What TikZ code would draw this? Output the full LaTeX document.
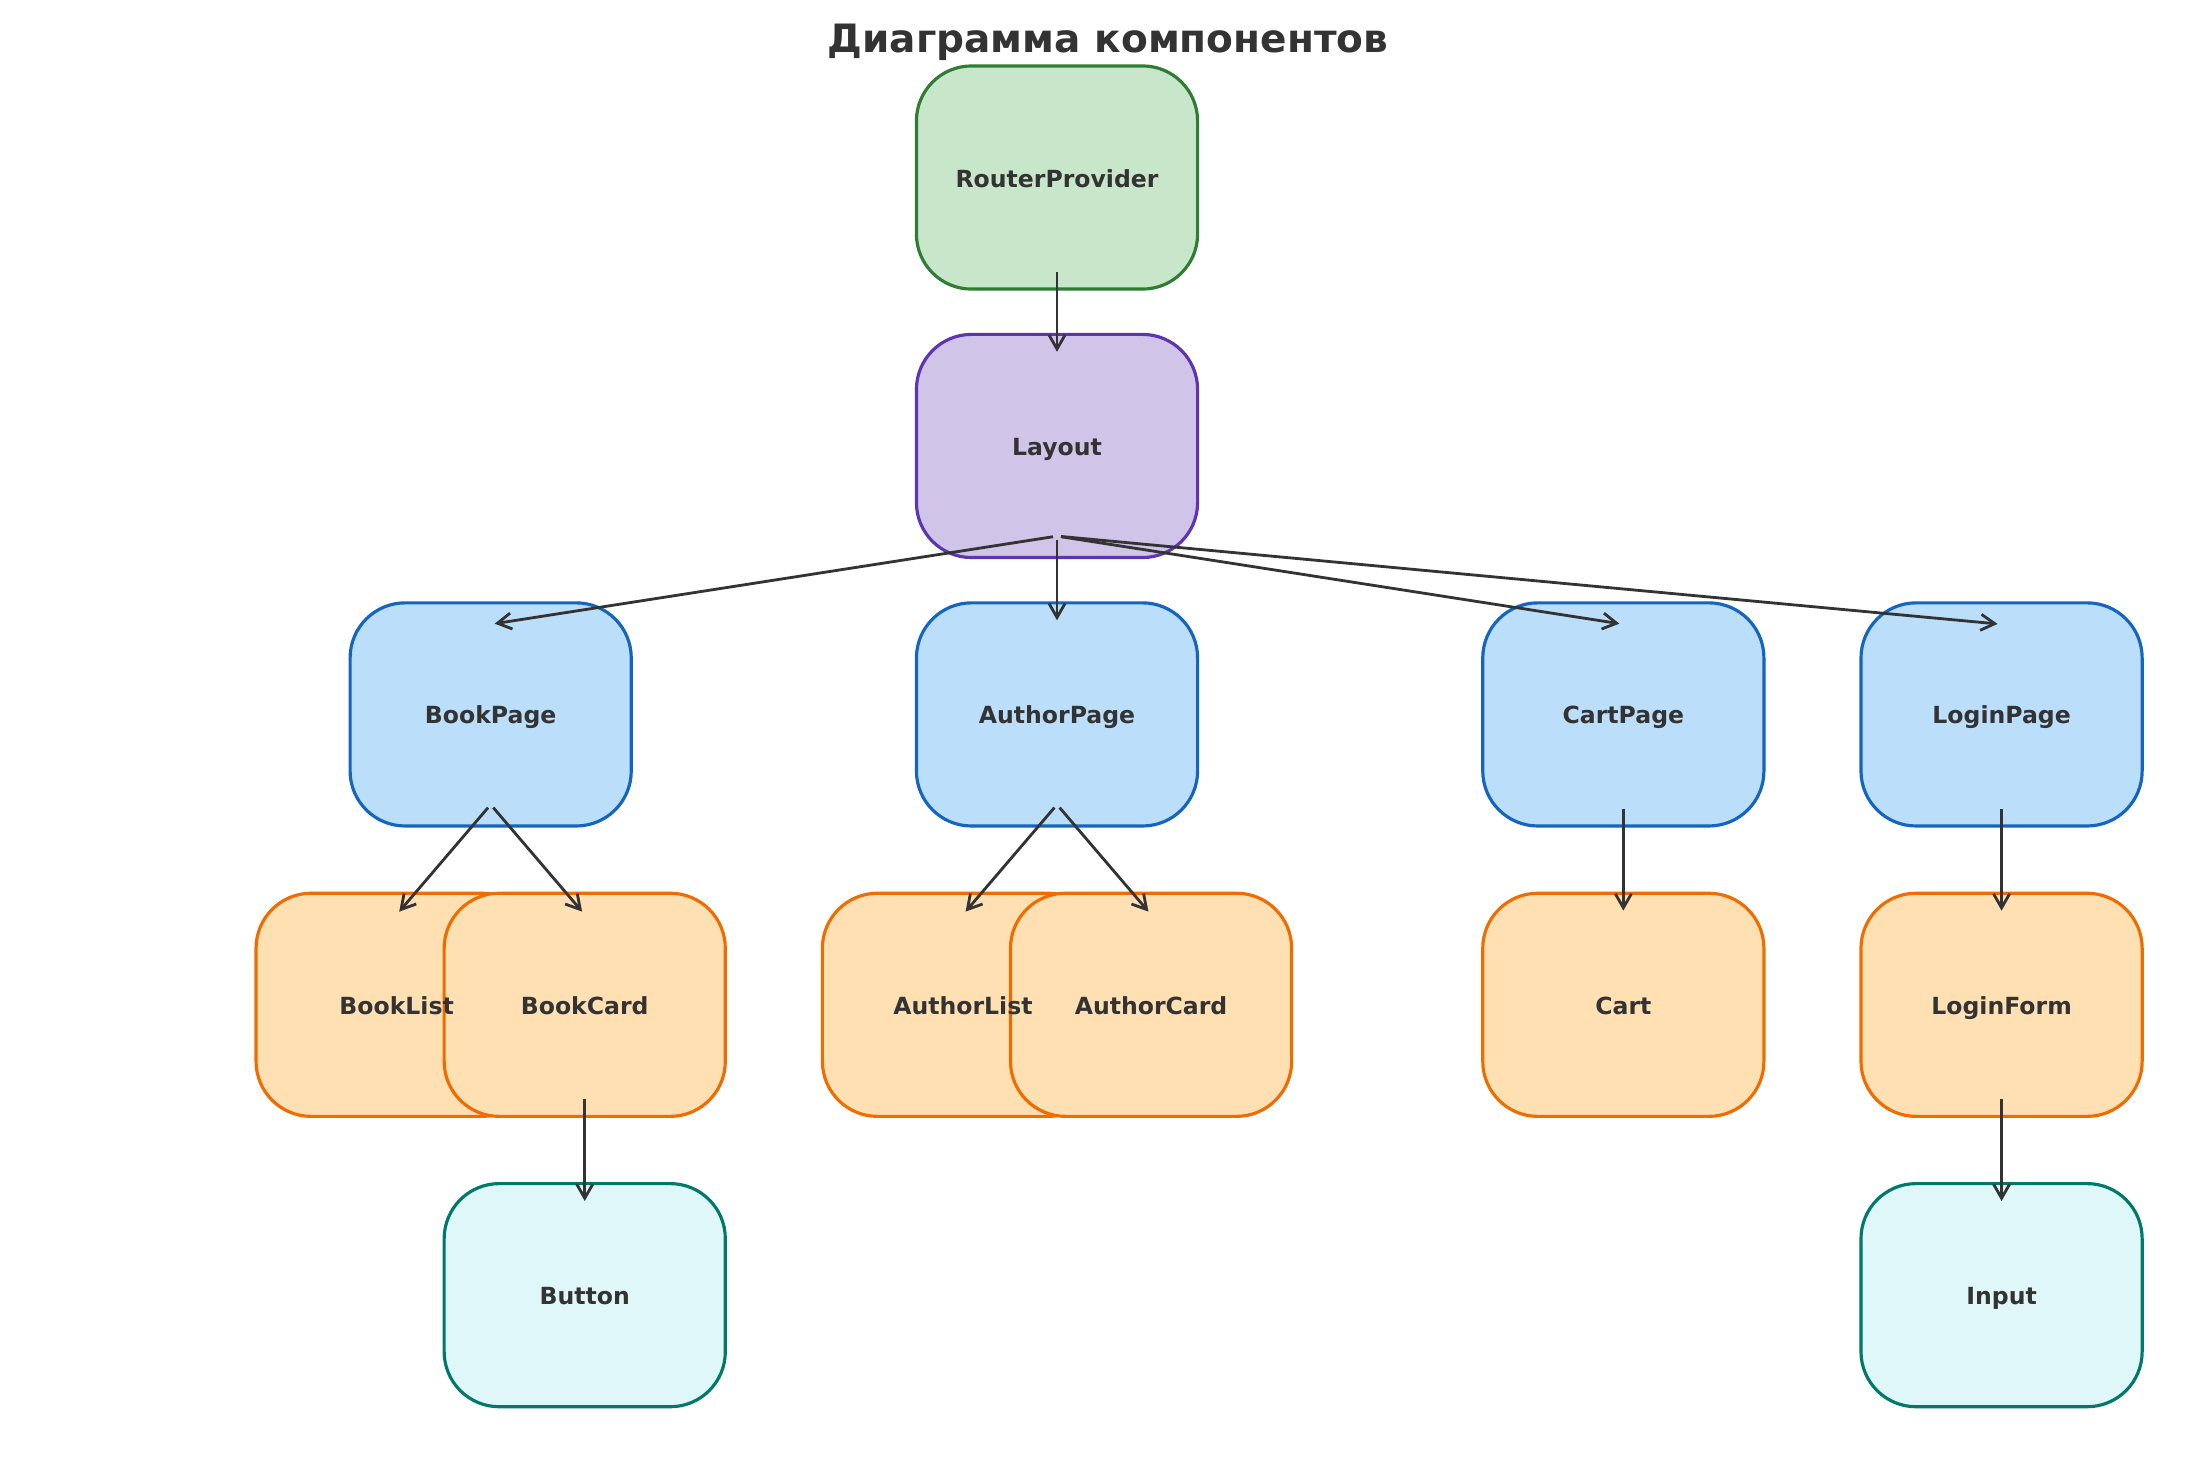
\documentclass[tikz,border=0pt]{standalone}
\usepackage{fontspec}
\setmainfont{DejaVu Sans}
\usepackage{tikz}
\usetikzlibrary{arrows.meta, positioning, shapes}
\usepackage{xcolor}

\definecolor{ink}{HTML}{333333}
\definecolor{rootfill}{HTML}{C8E6C9}
\definecolor{rootline}{HTML}{2E7D32}
\definecolor{shellfill}{HTML}{D1C4E9}
\definecolor{shellline}{HTML}{5E35B1}
\definecolor{pagefill}{HTML}{BBDEFB}
\definecolor{pageline}{HTML}{1565C0}
\definecolor{partfill}{HTML}{FFE0B2}
\definecolor{partline}{HTML}{EF6C00}
\definecolor{atomfill}{HTML}{E0F7FA}
\definecolor{atomline}{HTML}{00796B}

\begin{document}
\begin{tikzpicture}[x=0.01cm, y=-0.01cm, node distance=2.683cm]
            \tikzstyle{tag} = [text=ink, font=\fontsize{6.7}{8}\selectfont\bfseries, text height=0.74em, text depth=0.2em]
            \tikzstyle{block} = [tag, rectangle, draw, line width=0.9pt, rounded corners=0.55cm, minimum width=2.81cm, minimum height=2.23cm]
            \tikzstyle{root} = [block, fill=rootfill, draw=rootline]
            \tikzstyle{shell} = [block, fill=shellfill, draw=shellline]
            \tikzstyle{page} = [block, fill=pagefill, draw=pageline]
            \tikzstyle{part} = [block, fill=partfill, draw=partline]
            \tikzstyle{atom} = [block, fill=atomfill, draw=atomline]
            \tikzstyle{line} = [draw, ink, line width=0.8pt, -{Straight Barb[length=1.4mm, width=1.6mm]}, shorten <=0.04cm, shorten >=0.04cm]

            \useasboundingbox (0,0) rectangle (2210,1472);

            % заголовок
            \node[anchor=base, text=ink, font=\fontsize{11.1}{13}\selectfont\bfseries] (title) at (1108,52) {Диаграмма компонентов};

            % определение узлов
            \node[root] (router) at (1057,177.5) {RouterProvider};
            \node[shell, below of=router] (layout) {Layout};
            \node[page, below of=layout, xshift=-5.66cm] (bookpage) {BookPage};
            \node[page, below of=layout] (authorpage) {AuthorPage};
            \node[page, below of=layout, xshift=5.66cm] (cartpage) {CartPage};
            \node[page, below of=layout, xshift=9.44cm] (loginpage) {LoginPage};
            \node[part, node distance=2.902cm, below of=bookpage, xshift=-0.94cm] (booklist) {};
            \node[part, node distance=2.902cm, below of=bookpage, xshift=0.94cm] (bookcard) {BookCard};
            \node[part, node distance=2.902cm, below of=authorpage, xshift=-0.94cm] (authorlist) {};
            \node[part, node distance=2.902cm, below of=authorpage, xshift=0.94cm] (authorcard) {AuthorCard};
            \node[part, node distance=2.902cm, below of=cartpage] (cart) {Cart};
            \node[part, node distance=2.902cm, below of=loginpage] (loginform) {LoginForm};
            \node[atom, node distance=2.902cm, below of=bookcard] (button) {Button};
            \node[atom, node distance=2.902cm, below of=loginform] (input) {Input};

            % подписи поверх соседних блоков
            \node[tag] (booklisttext) at (booklist) {BookList};
            \node[tag] (authorlisttext) at (authorlist) {AuthorList};

            % добавление стрелок
            \path [line] ([yshift=0.23cm]router.south) -- ([yshift=-0.23cm]layout.north);
            \path [line] ([yshift=0.23cm]layout.south) -- ([yshift=-0.23cm]bookpage.north);
            \path [line] ([yshift=0.23cm]layout.south) -- ([yshift=-0.23cm]authorpage.north);
            \path [line] ([yshift=0.23cm]layout.south) -- ([yshift=-0.23cm]cartpage.north);
            \path [line] ([yshift=0.23cm]layout.south) -- ([yshift=-0.23cm]loginpage.north);
            \path [line] ([yshift=0.23cm]bookpage.south) -- ([yshift=-0.23cm]booklist.north);
            \path [line] ([yshift=0.23cm]bookpage.south) -- ([yshift=-0.23cm]bookcard.north);
            \path [line] ([yshift=0.23cm]authorpage.south) -- ([yshift=-0.23cm]authorlist.north);
            \path [line] ([yshift=0.23cm]authorpage.south) -- ([yshift=-0.23cm]authorcard.north);
            \path [line] ([yshift=0.23cm]cartpage.south) -- ([yshift=-0.23cm]cart.north);
            \path [line] ([yshift=0.23cm]loginpage.south) -- ([yshift=-0.23cm]loginform.north);
            \path [line] ([yshift=0.23cm]bookcard.south) -- ([yshift=-0.23cm]button.north);
            \path [line] ([yshift=0.23cm]loginform.south) -- ([yshift=-0.23cm]input.north);
        \end{tikzpicture}
\end{document}
